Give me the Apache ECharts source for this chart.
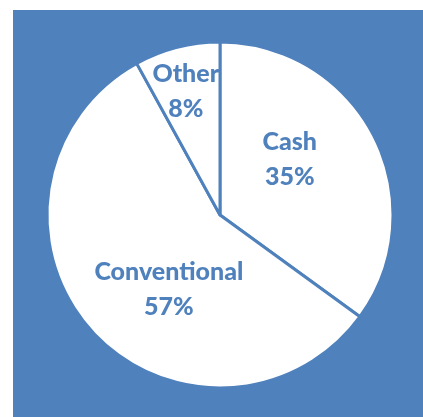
<!DOCTYPE html>
<html>
<head>
<meta charset="utf-8">
<script src="https://cdn.jsdelivr.net/npm/echarts@6/dist/echarts.min.js"></script>
<style>
  html, body { margin: 0; padding: 0; background: #ffffff; }
  #chart { position: absolute; left: 13px; top: 10px; width: 410px; height: 407px; }
</style>
</head>
<body>
<div id="chart"></div>
<script>
// Portfolio split by category
const categories = ['Cash', 'Conventional', 'Other'];
const shares = [35, 57, 8];

// Small nudges of each label away from the default inside position
const labelNudgeX = [-10, 16, -12];
const labelNudgeY = [-15, 15, -37];

const blue = '#4F81BD';

const chart = echarts.init(document.getElementById('chart'), null, { renderer: 'canvas' });

chart.setOption({
  backgroundColor: blue,
  animation: false,
  series: [{
    type: 'pie',
    center: [207, 205],
    radius: [0, 173],
    startAngle: 90,
    clockwise: true,
    silent: true,
    data: categories.map((name, i) => ({ name: name, value: shares[i] })),
    itemStyle: {
      color: '#ffffff',
      borderColor: blue,
      borderWidth: 3
    },
    label: {
      show: true,
      position: 'inside',
      formatter: '{b}\n{d}%',
      color: blue,
      fontFamily: 'Lato',
      fontWeight: 900,
      fontSize: 25,
      lineHeight: 35,
      align: 'center'
    },
    labelLine: { show: false },
    labelLayout: function (params) {
      return { dx: labelNudgeX[params.dataIndex], dy: labelNudgeY[params.dataIndex] };
    }
  }]
});
</script>
</body>
</html>
